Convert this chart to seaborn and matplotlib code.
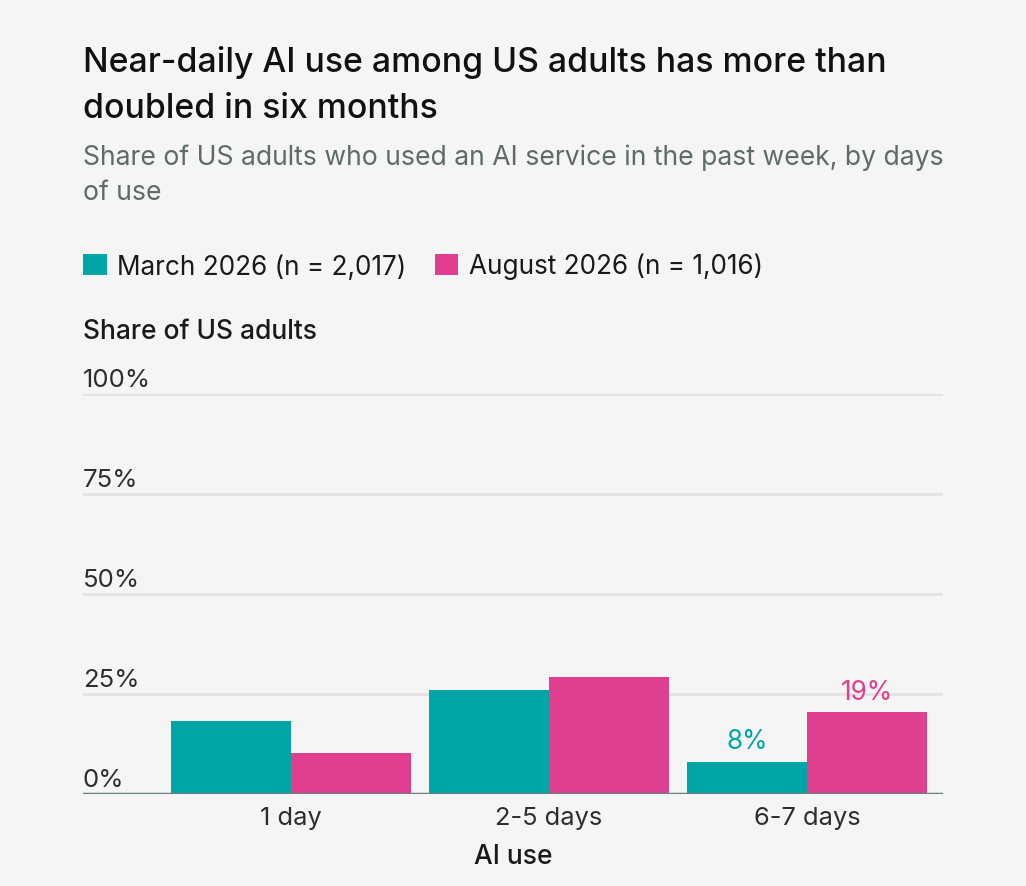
import numpy as np
import pandas as pd
import matplotlib
matplotlib.use("Agg")
import matplotlib.pyplot as plt
import seaborn as sns
from matplotlib.transforms import blended_transform_factory

# Data
categories = ["1 day", "2-5 days", "6-7 days"]
series_names = ["March 2026 (n = 2,017)", "August 2026 (n = 1,016)"]
march_vals = [18.2, 26.0, 8.1]
august_vals = [10.3, 29.3, 20.4]
y_ticks = [0, 25, 50, 75, 100]
y_tick_labels = ["0%", "25%", "50%", "75%", "100%"]
# value labels shown only on the last group
last_labels = ["8%", "19%"]

BG = "#F5F5F5"
TEAL = "#00A6A6"
PINK = "#E03E8F"
colors = [TEAL, PINK]

df = pd.DataFrame({
    "days": categories * 2,
    "series": [series_names[0]] * 3 + [series_names[1]] * 3,
    "share": march_vals + august_vals,
})

sns.set_theme(style="white")
plt.rcParams["font.family"] = ["Inter", "DejaVu Sans"]

fig = plt.figure(figsize=(10.26, 8.87), dpi=100, facecolor=BG)
ax = fig.add_axes([83 / 1026, 1 - 795 / 887, (943 - 83) / 1026, (795 - 395) / 887])
ax.set_facecolor(BG)

sns.barplot(data=df, x="days", y="share", hue="series", order=categories,
            hue_order=series_names, palette=colors, width=0.93, gap=0,
            saturation=1, edgecolor="none", linewidth=0, ax=ax, legend=True, zorder=3)

ax.set_xlim(-0.806, 2.527)
ax.set_ylim(0, 100)

# grid lines + custom tick labels above them
ax.set_yticks([])
trans = blended_transform_factory(ax.transAxes, ax.transData)
for t, lab in zip(y_ticks, y_tick_labels):
    if t > 0:
        ax.axhline(t, color="#E2E2E2", lw=2, zorder=1)
    ax.annotate(lab, xy=(0, t), xycoords=trans, xytext=(0, 5.5), textcoords="offset points",
                ha="left", va="baseline", fontsize=18.5, color="#2B2F2F")

ax.axhline(0, color="#6E7E7E", lw=2.5, zorder=4)
for s in ax.spines.values():
    s.set_visible(False)

ax.tick_params(axis="x", length=0, pad=9, labelsize=18.3, labelcolor="#2B2F2F")
ax.set_xlabel("AI use", fontsize=19, color="#1A1A1A", labelpad=9.5, fontweight="medium")
ax.set_ylabel("")

# value labels on last group
for cont, lab, col in zip(ax.containers, last_labels, colors):
    bar = cont.patches[-1]
    ax.annotate(lab, xy=(bar.get_x() + bar.get_width() / 2, bar.get_height()),
                xytext=(0, 9.6), textcoords="offset points", ha="center", va="baseline",
                fontsize=18.8, color=col)

# legend at the top
handles, labels = ax.get_legend_handles_labels()
ax.get_legend().remove()
fig.legend(handles, labels, loc="upper left", bbox_to_anchor=(83 / 1026, 1 - 254 / 887),
           ncol=2, frameon=False, fontsize=18.8, handlelength=0.9, handleheight=0.9,
           handletextpad=0.4, columnspacing=1.1, borderpad=0, borderaxespad=0,
           labelcolor="#1A1A1A")

# titles
fig.text(83 / 1026, 1 - 85.5 / 887, "Near-daily AI use among US adults has more than\ndoubled in six months",
         ha="left", va="center", fontsize=24.3, fontweight="medium", color="#111111",
         linespacing=1.58)
fig.text(83 / 1026, 1 - 175.5 / 887, "Share of US adults who used an AI service in the past week, by days\nof use",
         ha="left", va="center", fontsize=19.1, color="#5F6B6B", linespacing=1.45)
fig.text(83 / 1026, 1 - 332 / 887, "Share of US adults", ha="left", va="center",
         fontsize=19, fontweight="medium", color="#1A1A1A")

fig.savefig("out.png", dpi=100, facecolor=BG)
